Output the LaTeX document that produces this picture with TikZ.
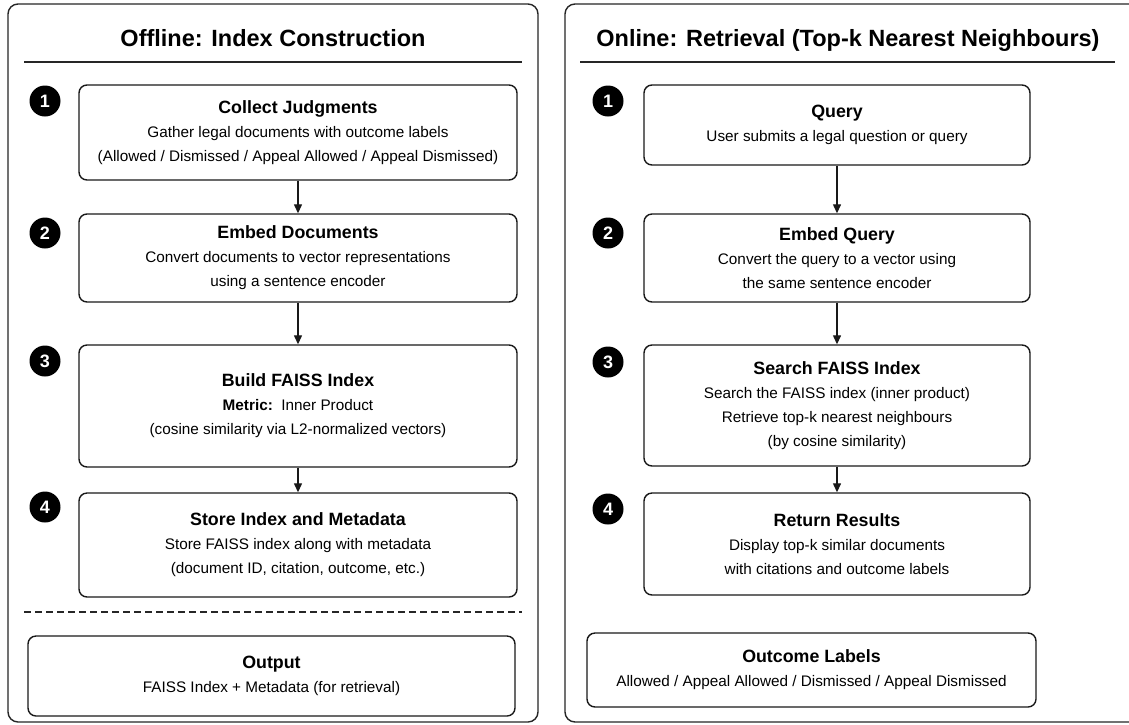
\documentclass[tikz,border=0pt]{standalone}
\usepackage{fontspec}
\setmainfont{Liberation Sans}
\usetikzlibrary{arrows.meta}
\newcommand\bodyf{\fontsize{15.3}{24}\selectfont}
\newcommand\bt[1]{{\fontsize{17.8}{24}\selectfont\bfseries #1}}
\newcommand\titlef{\fontsize{23.5}{28}\selectfont\bfseries}
\newcommand\numf{\fontsize{18}{20}\selectfont\bfseries}
\tikzset{
  panel/.style={draw=black!85, line width=1.4pt, rounded corners=10pt, fill=white, inner sep=0pt},
  box/.style={draw=black!90, line width=1.4pt, rounded corners=8pt, fill=white, align=center, inner sep=0pt, font=\bodyf},
  num/.style={circle, fill=black, text=white, minimum size=31pt, inner sep=0pt, font=\numf},
  arr/.style={-{Triangle[length=9pt,width=8pt]}, line width=1.3pt, draw=black!90},
  rule/.style={line width=1.2pt, draw=black!85},
  ptitle/.style={font=\titlef, anchor=base},
}
\begin{document}
\begin{tikzpicture}[x=1pt,y=-1pt]
\fill[white] (0,0) rectangle (1129,724);
\clip (0,0) rectangle (1129,724);
% panels
\node[panel, minimum width=530pt, minimum height=718pt] (lp) at (273,363) {};
\node[panel, minimum width=580pt, minimum height=718pt] (rp) at (855,363) {};
% titles
\node[ptitle] (lt) at (273,46) {Offline: Index Construction};
\node[ptitle] (rt) at (848,46) {Online: Retrieval (Top-k Nearest Neighbours)};
\draw[rule] (24,62) -- (522,62);
\draw[rule] (580,62) -- (1115,62);
% left boxes
\node[box, minimum width=438pt, minimum height=95pt] (l1) at (298,132.5)
  {\bt{Collect Judgments}\\ Gather legal documents with outcome labels\\ (Allowed / Dismissed / Appeal Allowed / Appeal Dismissed)};
\node[box, minimum width=438pt, minimum height=88pt] (l2) at (298,258)
  {\bt{Embed Documents}\\ Convert documents to vector representations\\ using a sentence encoder};
\node[box, minimum width=438pt, minimum height=122pt] (l3) at (298,406)
  {\bt{Build FAISS Index}\\ \textbf{Metric:}\ \ Inner Product\\ (cosine similarity via L2-normalized vectors)};
\node[box, minimum width=438pt, minimum height=104pt] (l4) at (298,545)
  {\bt{Store Index and Metadata}\\ Store FAISS index along with metadata\\ (document ID, citation, outcome, etc.)};
\draw[rule, dashed, dash pattern=on 7pt off 4pt] (24,612) -- (522,612);
\node[box, minimum width=487pt, minimum height=80pt] (lo) at (271.5,676)
  {\bt{Output}\\ FAISS Index + Metadata (for retrieval)};
% left numbers
\node[num] (n1) at (45,101) {1};
\node[num] (n2) at (45,233) {2};
\node[num] (n3) at (45,361) {3};
\node[num] (n4) at (45,507) {4};
% left arrows
\draw[arr] (l1) -- (l2);
\draw[arr] (l2) -- (l3);
\draw[arr] (l3) -- (l4);
% right boxes
\node[box, minimum width=386pt, minimum height=80pt] (r1) at (837,125)
  {\bt{Query}\\ User submits a legal question or query};
\node[box, minimum width=386pt, minimum height=88pt] (r2) at (837,258)
  {\bt{Embed Query}\\ Convert the query to a vector using\\ the same sentence encoder};
\node[box, minimum width=386pt, minimum height=121pt] (r3) at (837,405.5)
  {\bt{Search FAISS Index}\\ Search the FAISS index (inner product)\\ Retrieve top-k nearest neighbours\\ (by cosine similarity)};
\node[box, minimum width=386pt, minimum height=102pt] (r4) at (837,544)
  {\bt{Return Results}\\ Display top-k similar documents\\ with citations and outcome labels};
\node[box, minimum width=449pt, minimum height=74pt] (ro) at (811.5,670)
  {\bt{Outcome Labels}\\ Allowed / Appeal Allowed / Dismissed / Appeal Dismissed};
% right numbers
\node[num] (m1) at (608,101) {1};
\node[num] (m2) at (608,233) {2};
\node[num] (m3) at (608,362) {3};
\node[num] (m4) at (608,509) {4};
% right arrows
\draw[arr] (r1) -- (r2);
\draw[arr] (r2) -- (r3);
\draw[arr] (r3) -- (r4);
\end{tikzpicture}
\end{document}
